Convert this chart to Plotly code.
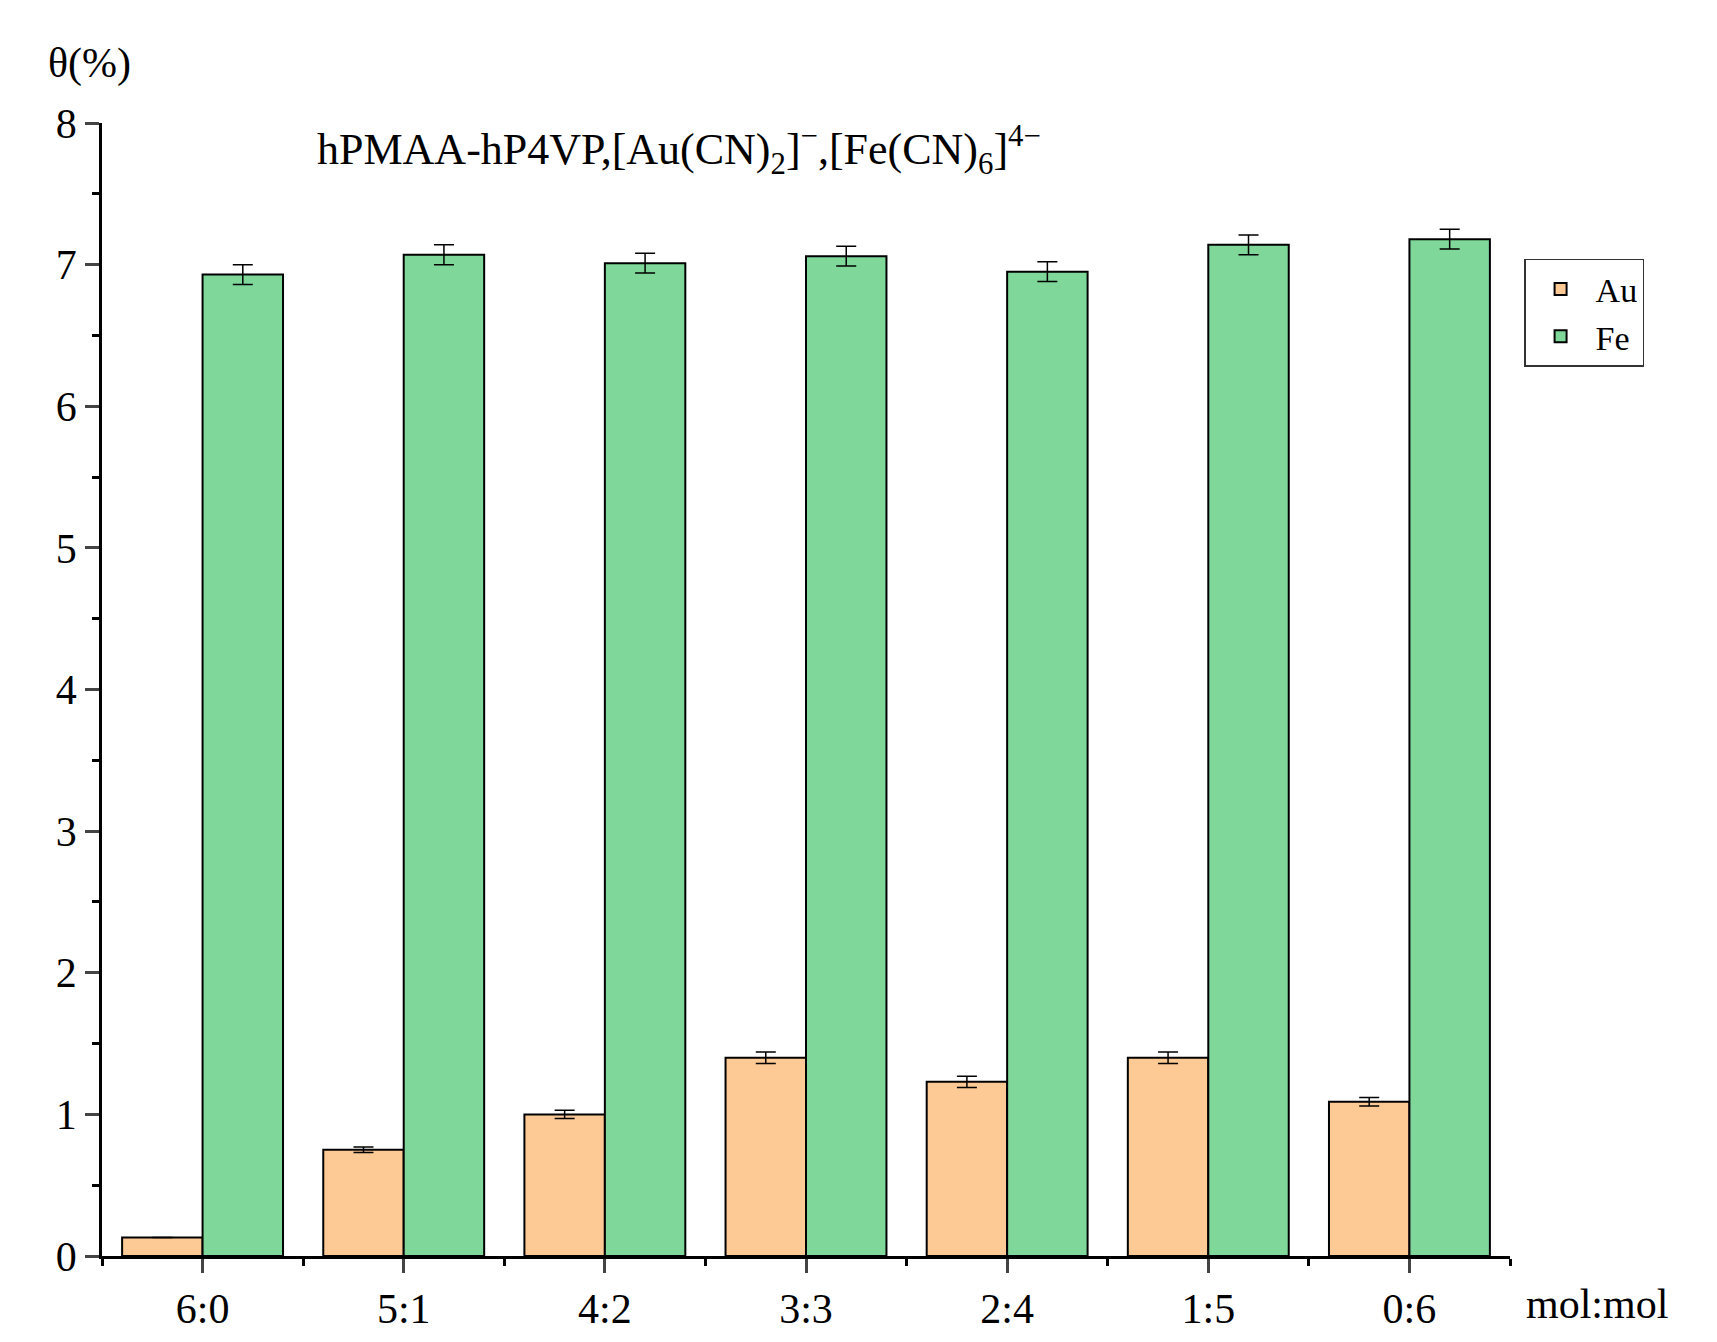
import plotly.graph_objects as go

ratios = ["6:0", "5:1", "4:2", "3:3", "2:4", "1:5", "0:6"]
au = [0.13, 0.75, 1.00, 1.40, 1.23, 1.40, 1.09]
au_err = [0, 0.02, 0.03, 0.04, 0.04, 0.04, 0.03]
fe = [6.93, 7.07, 7.01, 7.06, 6.95, 7.14, 7.18]
fe_err = [0.07, 0.07, 0.07, 0.07, 0.07, 0.07, 0.07]

x = list(range(len(ratios)))
font = "Liberation Serif"

fig = go.Figure()
fig.add_trace(go.Bar(x=x, y=au, name="Au", marker=dict(color="#FDC994", line=dict(color="black", width=2)),
                     error_y=dict(type="data", array=au_err, color="black", thickness=1.5, width=10)))
fig.add_trace(go.Bar(x=x, y=fe, name="Fe", marker=dict(color="#7FD899", line=dict(color="black", width=2)),
                     error_y=dict(type="data", array=fe_err, color="black", thickness=1.5, width=10)))

fig.update_layout(
    width=1717, height=1342, barmode="group", bargap=0.2, bargroupgap=0,
    plot_bgcolor="white", paper_bgcolor="white",
    font=dict(family=font, size=42, color="black"),
    margin=dict(l=94, r=215, t=115, b=94),
    legend=dict(x=1.01, y=0.88, xanchor="left", yanchor="top", bordercolor="#333", borderwidth=1.5,
                font=dict(size=34), itemsizing="constant", itemwidth=60),
    annotations=[
        dict(text="hPMAA-hP4VP,[Au(CN)<sub>2</sub>]<sup>−</sup>,[Fe(CN)<sub>6</sub>]<sup>4−</sup>",
             x=0.41, y=1.005, xref="paper", yref="paper", xanchor="center", yanchor="top",
             showarrow=False, font=dict(size=44)),
        dict(text="θ(%)", x=-0.04, y=1.03, xref="paper", yref="paper", xanchor="left", yanchor="bottom",
             showarrow=False, font=dict(size=42)),
        dict(text="mol:mol", x=1.01, y=-0.02, xref="paper", yref="paper", xanchor="left", yanchor="top",
             showarrow=False, font=dict(size=42)),
    ],
)
fig.update_xaxes(range=[-0.5, 6.5], tickvals=x, ticktext=ratios, showline=True, linecolor="black",
                 linewidth=2.5, ticks="outside", ticklen=14, tickwidth=2.5, showgrid=False, zeroline=False,
                 minor=dict(tick0=0.5, dtick=1, ticks="outside", ticklen=7, tickwidth=2.5, tickcolor="black"))
fig.update_yaxes(range=[0, 8], dtick=1, showline=True, linecolor="black", linewidth=2.5,
                 ticks="outside", ticklen=14, tickwidth=2.5, showgrid=False, zeroline=False,
                 minor=dict(dtick=0.5, ticks="outside", ticklen=7, tickwidth=2.5, tickcolor="black"))

fig.write_html("out.html")
